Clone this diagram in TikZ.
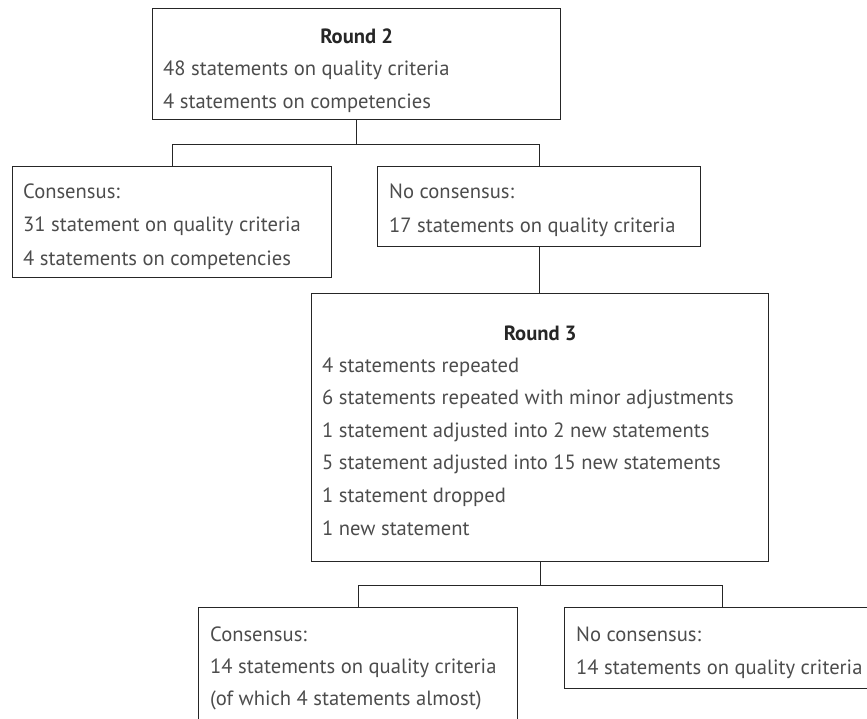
\documentclass[tikz,border=0pt]{standalone}
\usepackage{fontspec}
\setmainfont{PT Sans}
\begin{document}
\begin{tikzpicture}[x=1pt, y=-1pt,
        box/.style={draw=black!85, line width=1.3pt, inner sep=0pt, anchor=north west},
        txt/.style={anchor=base west, inner sep=0pt, text=black!70, font=\fontsize{20.6}{25}\selectfont},
        head/.style={anchor=base, inner sep=0pt, text=black!85, font=\fontsize{20.6}{25}\selectfont\bfseries},
        link/.style={draw=black!85, line width=1.3pt}
    ]
        \clip (0,0) rectangle (867,718);

        % Round 2 and its two outcomes
        \node[box, minimum width=408pt, minimum height=111pt] (round2) at (152,8) {};
        \node[head] (round2h) at (round2.north |- 0,43) {Round 2};
        \foreach \txt [count=\i] in {48 statements on quality criteria, 4 statements on competencies} {
                \node[txt] (round2l\i) at (163,42+33*\i) {\txt};
            }

        \node[box, minimum width=319pt, minimum height=111pt] (cons2) at (12,166) {};
        \foreach \txt [count=\i from 0] in {Consensus:, 31 statement on quality criteria, 4 statements on competencies} {
                \node[txt] (cons2l\i) at (23,198+33.5*\i) {\txt};
            }

        \node[box, minimum width=323pt, minimum height=80pt] (nocons2) at (377,166) {};
        \foreach \txt [count=\i from 0] in {No consensus:, 17 statements on quality criteria} {
                \node[txt] (nocons2l\i) at (389,198+34*\i) {\txt};
            }

        % Round 3
        \node[box, minimum width=457pt, minimum height=268pt] (round3) at (311,293) {};
        \node[head] (round3h) at (round3.north |- 0,340) {Round 3};
        \foreach \txt [count=\i from 0] in {4 statements repeated, 6 statements repeated with minor adjustments,
                1 statement adjusted into 2 new statements, 5 statement adjusted into 15 new statements,
                1 statement dropped, 1 new statement} {
                \node[txt] (round3l\i) at (322,372+32.6*\i) {\txt};
            }

        % outcomes of round 3
        \node[box, minimum width=319pt, minimum height=114pt] (cons3) at (198,607) {};
        \foreach \txt [count=\i from 0] in {Consensus:, 14 statements on quality criteria, {(of which 4 statements almost)}} {
                \node[txt] (cons3l\i) at (210,641+32*\i) {\txt};
            }

        \node[box, minimum width=316pt, minimum height=81pt] (nocons3) at (564,607) {};
        \foreach \txt [count=\i from 0] in {No consensus:, 14 statements on quality criteria} {
                \node[txt] (nocons3l\i) at (576,641+33*\i) {\txt};
            }

        % connectors
        \draw[link] (round2.south) -- ++(0,24) coordinate (split2);
        \draw[link] (split2) -| (cons2.north);
        \draw[link] (split2) -| (nocons2.north);
        \draw[link] (nocons2.south) -- (nocons2.south |- round3.north);
        \draw[link] (round3.south) -- ++(0,23) coordinate (split3);
        \draw[link] (split3) -| (cons3.north);
        \draw[link] (split3) -| (nocons3.north);
\end{tikzpicture}
\end{document}
